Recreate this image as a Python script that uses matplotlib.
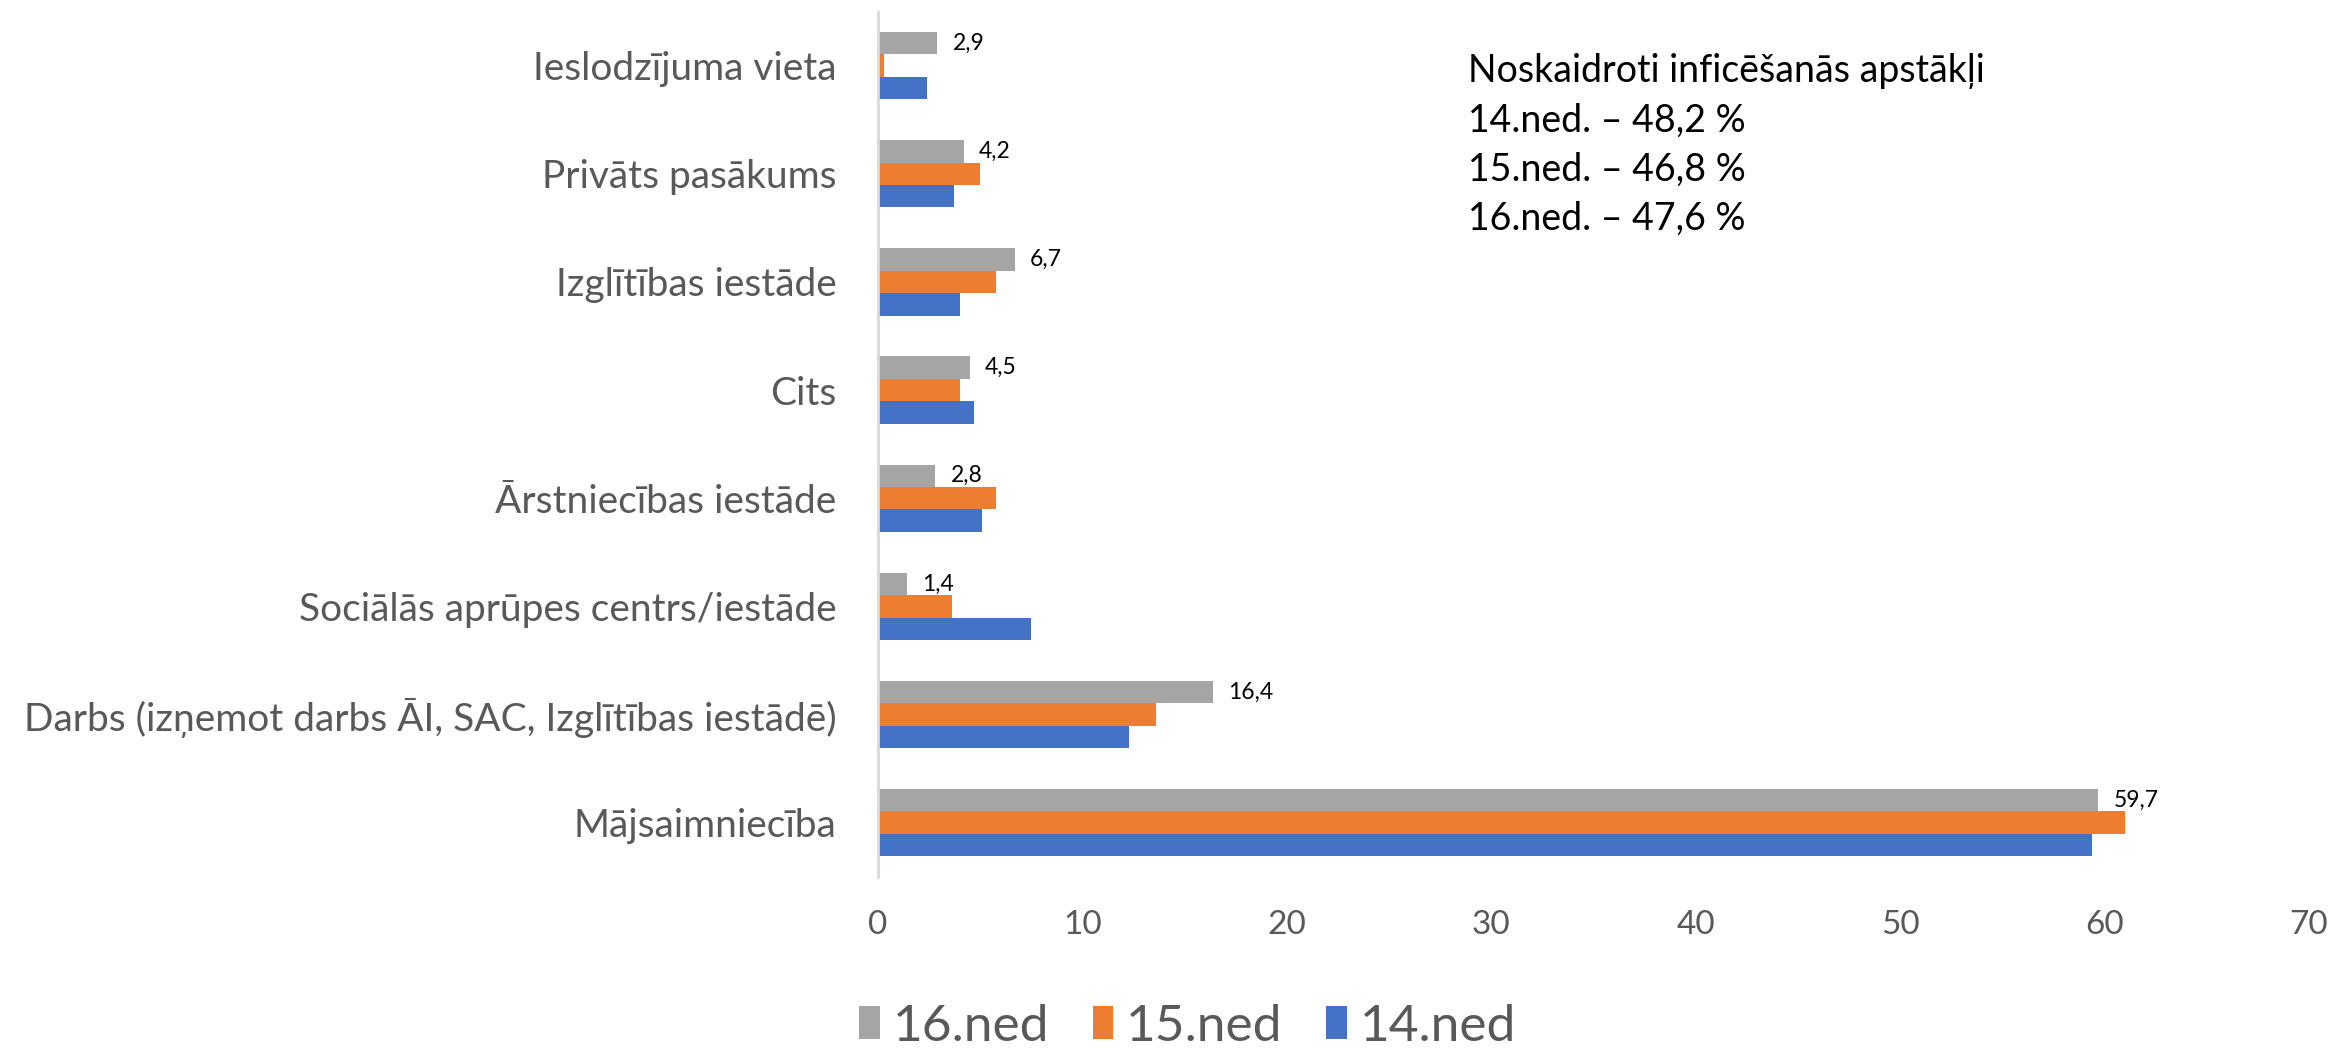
import matplotlib.pyplot as plt
import numpy as np

plt.rcParams['font.family'] = ['Lato', 'DejaVu Sans']

# Categories, bottom to top
categories = [
    "Mājsaimniecība",
    "Darbs (izņemot darbs ĀI, SAC, Izglītības iestādē)",
    "Sociālās aprūpes centrs/iestāde",
    "Ārstniecības iestāde",
    "Cits",
    "Izglītības iestāde",
    "Privāts pasākums",
    "Ieslodzījuma vieta",
]
ned16 = [59.7, 16.4, 1.4, 2.8, 4.5, 6.7, 4.2, 2.9]
ned15 = [61.0, 13.6, 3.6, 5.8, 4.0, 5.8, 5.0, 0.3]
ned14 = [59.4, 12.3, 7.5, 5.1, 4.7, 4.0, 3.7, 2.4]

note_lines = [
    "Noskaidroti inficēšanās apstākļi",
    "14.ned. – 48,2 %",
    "15.ned. – 46,8 %",
    "16.ned. – 47,6 %",
]

c16 = "#A5A5A5"
c15 = "#ED7D31"
c14 = "#4472C4"

fig = plt.figure(figsize=(23.38, 10.5), dpi=100)
ax = fig.add_axes([0.3755, 0.165, 0.612, 0.824])

y = np.arange(len(categories))
h = 0.207

b16 = ax.barh(y + h, ned16, height=h, color=c16, label="16.ned")
b15 = ax.barh(y, ned15, height=h, color=c15, label="15.ned")
b14 = ax.barh(y - h, ned14, height=h, color=c14, label="14.ned")

# value labels only on the 16th week bars
ax.bar_label(b16, labels=[f"{v:.1f}".replace(".", ",") for v in ned16],
             padding=11, fontsize=16.5, color="black")

ax.set_xlim(0, 70)
ax.set_ylim(-0.5, len(categories) - 0.5)
ax.set_xticks(range(0, 71, 10))
ax.set_yticks(y)
ax.set_yticklabels(categories)
ax.tick_params(axis="x", length=0, pad=24, labelsize=24, labelcolor="#595959")
ax.tick_params(axis="y", length=0, pad=30, labelsize=28, labelcolor="#595959")

for s in ["top", "right", "bottom"]:
    ax.spines[s].set_visible(False)
ax.spines["left"].set_color("#D9D9D9")
ax.spines["left"].set_linewidth(2)

for i, line in enumerate(note_lines):
    fig.text(0.628, 0.932 - i * 0.0467, line, fontsize=27, color="black",
             ha="left", va="center")

leg = fig.legend(handles=[b16, b15, b14], loc="center", bbox_to_anchor=(0.508, 0.022),
                 ncol=3, frameon=False, fontsize=37, handlelength=0.4,
                 handleheight=0.6, handletextpad=0.25, columnspacing=0.85)
for t in leg.get_texts():
    t.set_color("#595959")

fig.savefig("out.png", dpi=100)
